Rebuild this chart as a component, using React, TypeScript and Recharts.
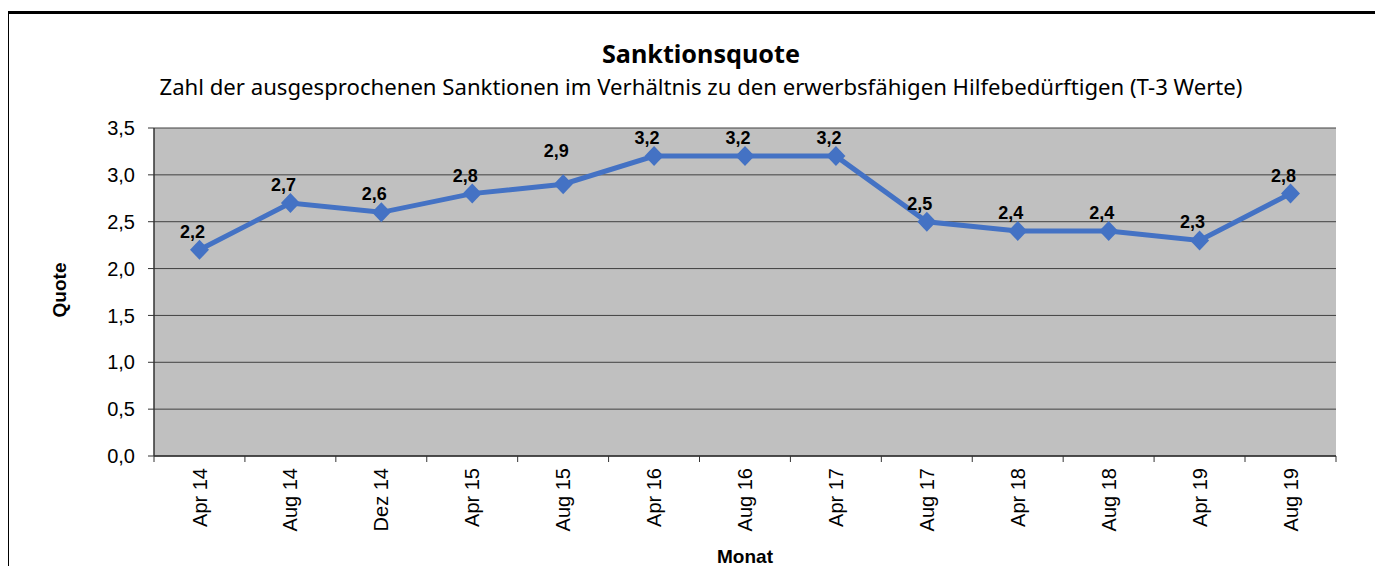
import React from "react";
import {
  LineChart,
  Line,
  XAxis,
  YAxis,
  CartesianGrid,
  LabelList,
} from "recharts";

const months = [
  "Apr 14",
  "Aug 14",
  "Dez 14",
  "Apr 15",
  "Aug 15",
  "Apr 16",
  "Aug 16",
  "Apr 17",
  "Aug 17",
  "Apr 18",
  "Aug 18",
  "Apr 19",
  "Aug 19",
];
const quote = [2.2, 2.7, 2.6, 2.8, 2.9, 3.2, 3.2, 3.2, 2.5, 2.4, 2.4, 2.3, 2.8];
const yTicks = [0, 0.5, 1, 1.5, 2, 2.5, 3, 3.5];

const data = months.map((month, i) => ({ month, quote: quote[i] }));

const W = 1383;
const H = 574;
const BLUE = "#4472C4";
const FONT = "'Liberation Sans', Arial, sans-serif";
const HALF = 45.5; // half of one category slot

const fmt = (v: number) => v.toFixed(1).replace(".", ",");

const Diamond = (props: any) => {
  const { cx, cy } = props;
  if (cx == null || cy == null) return null;
  return (
    <polygon
      points={`${cx},${cy - 10} ${cx + 9.5},${cy} ${cx},${cy + 10} ${cx - 9.5},${cy}`}
      fill={BLUE}
    />
  );
};

const XTick = (props: any) => {
  const { x, y, payload } = props;
  const last = payload.value === months[months.length - 1];
  return (
    <g>
      <line x1={x - HALF} x2={x - HALF} y1={y} y2={y + 6} stroke="#333" />
      {last && <line x1={x + HALF} x2={x + HALF} y1={y} y2={y + 6} stroke="#333" />}
      <text
        transform={`translate(${x},${y + 12}) rotate(-90)`}
        textAnchor="end"
        dy="0.35em"
        fontSize={20}
        fontFamily={FONT}
        fill="#000"
      >
        {payload.value}
      </text>
    </g>
  );
};

const ValueLabel = (props: any) => {
  const { x, y, value, index } = props;
  // Excel put the Aug 15 label a bit higher than the rest
  const lift = index === 4 ? 27 : 12;
  return (
    <text
      x={x - 7}
      y={y - lift}
      textAnchor="middle"
      fontSize={18}
      fontWeight="bold"
      fontFamily={FONT}
      fill="#000"
    >
      {fmt(value)}
    </text>
  );
};

export default function App() {
  return (
    <div
      style={{
        position: "relative",
        width: W,
        height: H,
        margin: -8,
        overflow: "hidden",
        background: "#fff",
      }}
    >
      <div
        style={{
          position: "absolute",
          left: 6,
          top: 11,
          width: W + 20,
          height: H + 20,
          border: "3px solid #000",
          boxSizing: "border-box",
        }}
      />
      <div style={{ position: "absolute", left: 0, top: 0 }}>
        <LineChart
          width={W}
          height={H}
          data={data}
          margin={{ top: 128, right: 47, bottom: 28, left: 94 }}
        >
          <CartesianGrid vertical={false} fill="#c0c0c0" stroke="#404040" />
          <XAxis
            dataKey="month"
            scale="point"
            padding={{ left: HALF, right: HALF }}
            height={90}
            tickSize={0}
            tickMargin={0}
            tickLine={false}
            axisLine={{ stroke: "#333", strokeWidth: 1.5 }}
            tick={<XTick />}
            interval={0}
          />
          <XAxis
            xAxisId="top"
            orientation="top"
            dataKey="month"
            scale="point"
            padding={{ left: HALF, right: HALF }}
            height={0}
            tick={false}
            tickLine={false}
            axisLine={{ stroke: "#808080", strokeWidth: 1.5 }}
          />
          <YAxis
            domain={[0, 3.5]}
            ticks={yTicks}
            width={60}
            tickSize={6}
            tickMargin={13}
            tickFormatter={fmt}
            tick={{ fontSize: 20, fill: "#000", fontFamily: FONT }}
            tickLine={{ stroke: "#333" }}
            axisLine={{ stroke: "#333", strokeWidth: 1.5 }}
            interval={0}
          />
          <YAxis
            yAxisId="right"
            orientation="right"
            domain={[0, 3.5]}
            width={0}
            tick={false}
            tickLine={false}
            axisLine={{ stroke: "#808080", strokeWidth: 1.5 }}
          />
          <Line
            dataKey="quote"
            stroke={BLUE}
            strokeWidth={5}
            dot={<Diamond />}
            activeDot={false}
            isAnimationActive={false}
          >
            <LabelList dataKey="quote" content={<ValueLabel />} />
          </Line>
        </LineChart>
      </div>
      <svg
        width={W}
        height={H}
        style={{ position: "absolute", left: 0, top: 0, pointerEvents: "none" }}
      >
        <text
          x={701}
          y={63}
          textAnchor="middle"
          fontSize={25}
          fontWeight="bold"
          fontFamily="'Noto Sans', sans-serif"
          textLength={198}
          lengthAdjust="spacingAndGlyphs"
          fill="#000"
        >
          Sanktionsquote
        </text>
        <text
          x={701}
          y={95}
          textAnchor="middle"
          fontSize={22}
          fontFamily="'Noto Sans', sans-serif"
          textLength={1083}
          lengthAdjust="spacingAndGlyphs"
          fill="#000"
        >
          Zahl der ausgesprochenen Sanktionen im Verhältnis zu den erwerbsfähigen Hilfebedürftigen (T-3 Werte)
        </text>
        <text
          transform="translate(66,290) rotate(-90)"
          textAnchor="middle"
          fontSize={19}
          fontWeight="bold"
          fontFamily={FONT}
          fill="#000"
        >
          Quote
        </text>
        <text
          x={745}
          y={563}
          textAnchor="middle"
          fontSize={19}
          fontWeight="bold"
          fontFamily={FONT}
          fill="#000"
        >
          Monat
        </text>
      </svg>
    </div>
  );
}
